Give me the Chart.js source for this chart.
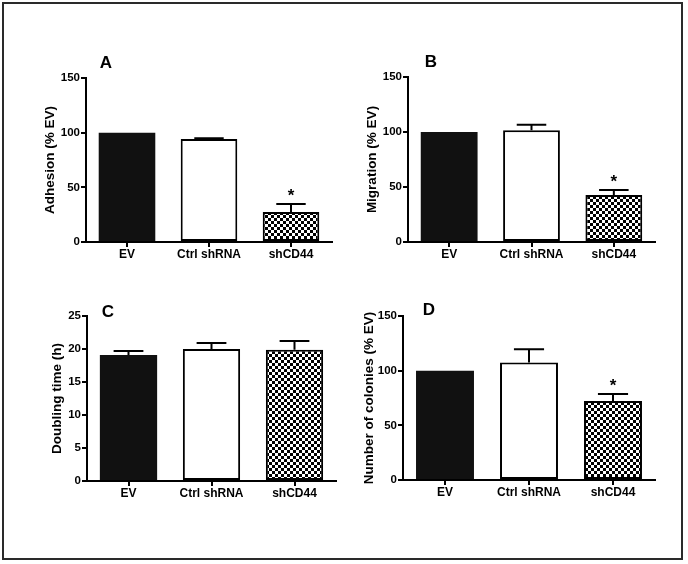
<!DOCTYPE html>
<html>
<head>
<meta charset="utf-8">
<script src="https://cdn.jsdelivr.net/npm/chart.js@4"></script>
<style>
  body { margin: 0; background: #fff; }
  #page { position: relative; width: 688px; height: 564px; overflow: hidden; background: #fff; }
  #frame { position: absolute; left: 2px; top: 2px; width: 677px; height: 554px; border: 2px solid #2a2a2a; }
  canvas { position: absolute; }
</style>
</head>
<body>
<div id="page"><div id="frame"></div></div>
<script>
const groups = ['EV', 'Ctrl shRNA', 'shCD44'];

const adhesion = [100, 94.2, 27.4];
const adhesionErr = [0, 0.8, 7.4];
const adhesionSig = [false, false, true];

const migration = [100, 101.5, 42.8];
const migrationErr = [0, 5, 4.4];
const migrationSig = [false, false, true];

const doubling = [19.1, 20.0, 19.9];
const doublingErr = [0.6, 0.9, 1.3];
const doublingSig = [false, false, false];

const colonies = [100, 107.5, 72.3];
const coloniesErr = [0, 12.2, 6.4];
const coloniesSig = [false, false, true];

Chart.defaults.font.family = '"Liberation Sans", Arial, sans-serif';
Chart.defaults.color = '#000';

// checkered fill for the shCD44 bar
function checker() {
    const c = document.createElement('canvas');
    c.width = 6; c.height = 6;
    const g = c.getContext('2d');
    g.fillStyle = '#fff';
    g.fillRect(0, 0, 6, 6);
    g.fillStyle = '#000';
    g.fillRect(0, 0, 3, 3);
    g.fillRect(3, 3, 3, 3);
    return g.createPattern(c, 'repeat');
}

const errorBars = {
    id: 'errorBars',
    afterDatasetsDraw(chart, args, opts) {
        const ctx = chart.ctx;
        const y = chart.scales.y;
        const meta = chart.getDatasetMeta(0);
        const ds = chart.data.datasets[0];
        ctx.save();
        ctx.strokeStyle = '#000';
        ctx.lineWidth = 2;
        meta.data.forEach((bar, i) => {
            const err = opts.err[i];
            const top = y.getPixelForValue(ds.data[i] + err);
            if (err > 0) {
                const half = bar.width * 0.26;
                ctx.beginPath();
                ctx.moveTo(bar.x, bar.y);
                ctx.lineTo(bar.x, top);
                ctx.moveTo(bar.x - half, top);
                ctx.lineTo(bar.x + half, top);
                ctx.stroke();
            }
            if (opts.sig[i]) {
                ctx.fillStyle = '#000';
                ctx.font = 'bold 17px "Liberation Sans", Arial, sans-serif';
                ctx.textAlign = 'center';
                ctx.textBaseline = 'middle';
                ctx.fillText('*', bar.x, top - 8);
            }
        });
        ctx.restore();
    }
};

const panelLetter = {
    id: 'panelLetter',
    afterDraw(chart, args, opts) {
        const ctx = chart.ctx;
        const a = chart.chartArea;
        ctx.save();
        ctx.fillStyle = '#000';
        ctx.font = 'bold 17px "Liberation Sans", Arial, sans-serif';
        ctx.textAlign = 'center';
        ctx.textBaseline = 'middle';
        ctx.fillText(opts.text, a.left + opts.dx, a.top + opts.dy);
        ctx.restore();
    }
};

const panels = [
    { letter: 'A', title: 'Adhesion (% EV)', values: adhesion, err: adhesionErr, sig: adhesionSig,
      max: 150, step: 50, area: { left: 86, right: 332, top: 78, bottom: 242 }, titleX: 50, dx: 20, dy: -15 },
    { letter: 'B', title: 'Migration (% EV)', values: migration, err: migrationErr, sig: migrationSig,
      max: 150, step: 50, area: { left: 408, right: 655, top: 77, bottom: 242 }, titleX: 372, dx: 23, dy: -15 },
    { letter: 'C', title: 'Doubling time (h)', values: doubling, err: doublingErr, sig: doublingSig,
      max: 25, step: 5, area: { left: 87, right: 336, top: 316, bottom: 481 }, titleX: 57, dx: 21, dy: -4 },
    { letter: 'D', title: 'Number of colonies (% EV)', values: colonies, err: coloniesErr, sig: coloniesSig,
      max: 150, step: 50, area: { left: 403, right: 655, top: 316, bottom: 480 }, titleX: 369, dx: 26, dy: -6 }
];

const LEFT = 70, TOP = 40, RIGHT = 12, BOTTOM = 40;

panels.forEach(p => {
    const cv = document.createElement('canvas');
    const cl = p.area.left - LEFT;
    const ct = p.area.top - TOP;
    const w = p.area.right - cl + RIGHT;
    const h = p.area.bottom - ct + BOTTOM;
    cv.style.left = cl + 'px';
    cv.style.top = ct + 'px';
    cv.style.width = w + 'px';
    cv.style.height = h + 'px';
    cv.width = w; cv.height = h;
    document.getElementById('page').appendChild(cv);

    const titleFont = { size: 13.5, weight: 'bold', lineHeight: 1.2 };

    new Chart(cv, {
        type: 'bar',
        plugins: [errorBars, panelLetter],
        data: {
            labels: groups,
            datasets: [{
                data: p.values,
                backgroundColor: ['#111', '#fff', checker()],
                borderColor: '#000',
                borderWidth: [0, 2, 2],
                borderSkipped: false,
                barPercentage: 0.69,
                categoryPercentage: 1
            }]
        },
        options: {
            responsive: false,
            animation: false,
            devicePixelRatio: 1,
            layout: { padding: { left: 0, top: TOP, right: RIGHT, bottom: 0 } },
            plugins: {
                legend: { display: false },
                tooltip: { enabled: false },
                errorBars: { err: p.err, sig: p.sig },
                panelLetter: { text: p.letter, dx: p.dx, dy: p.dy }
            },
            scales: {
                x: {
                    afterFit(s) { s.height = BOTTOM; },
                    grid: { drawOnChartArea: false, offset: false, tickLength: 5, color: '#000', lineWidth: 2 },
                    border: { color: '#000', width: 2 },
                    ticks: { font: { size: 12, weight: 'bold' }, padding: 0, maxRotation: 0 }
                },
                y: {
                    min: 0,
                    max: p.max,
                    afterFit(s) { s.width = LEFT; },
                    grid: { drawOnChartArea: false, tickLength: 5, color: '#000', lineWidth: 2 },
                    border: { color: '#000', width: 2 },
                    ticks: { stepSize: p.step, font: { size: 11.5, weight: 'bold' }, padding: 1 },
                    title: {
                        display: true,
                        text: p.title,
                        font: titleFont,
                        padding: { top: p.titleX - cl - 8.1, bottom: 0 }
                    }
                }
            }
        }
    });
});
</script>
</body>
</html>
